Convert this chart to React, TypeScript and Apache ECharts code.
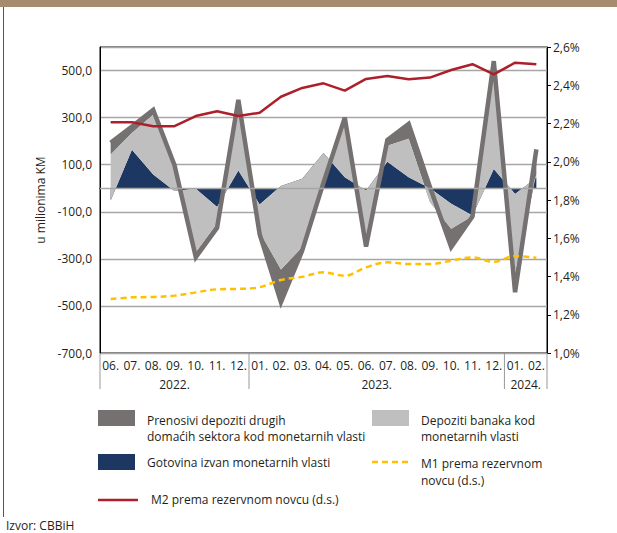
import React, { useEffect, useRef } from "react";
import * as echarts from "echarts";

const months = ["06.", "07.", "08.", "09.", "10.", "11.", "12.", "01.", "02.", "03.", "04.", "05.", "06.", "07.", "08.", "09.", "10.", "11.", "12.", "01.", "02."];
const yearLabels = ["2022.", "2023.", "2024."];
const yearSpans = [7, 12, 2];

// u milionima KM
const gotovina = [-52, 163, 58, -12, -2, -80, 75, -69, 10, 40, 150, 47, -10, 113, 47, 0, -66, -116, 82, -24, 45];
const depozitiBanaka = [195, 72, 254, 102, -270, -70, 245, -116, -355, -290, -150, 243, -190, 67, 163, -59, -106, -2, 408, -336, 15];
const prenosivi = [50, 27, 21, 8, -21, -18, 55, -10, -139, -15, 24, 10, -48, 25, 63, 64, -78, -2, 50, -82, 105];

// d.s. (%)
const m1Rez = [1.282, 1.291, 1.293, 1.3, 1.317, 1.333, 1.335, 1.344, 1.382, 1.398, 1.422, 1.404, 1.448, 1.474, 1.465, 1.465, 1.483, 1.5, 1.477, 1.507, 1.498];
const m2Rez = [2.206, 2.206, 2.186, 2.186, 2.239, 2.264, 2.239, 2.256, 2.34, 2.386, 2.41, 2.372, 2.433, 2.448, 2.431, 2.44, 2.48, 2.51, 2.457, 2.518, 2.51];

const names = {
  pren: "Prenosivi depoziti drugih domaćih sektora kod monetarnih vlasti",
  dep: "Depoziti banaka kod monetarnih vlasti",
  got: "Gotovina izvan monetarnih vlasti",
  m1: "M1 prema rezervnom novcu (d.s.)",
  m2: "M2 prema rezervnom novcu (d.s.)",
};

const C = {
  navy: "#1d3763",
  light: "#bfbfbf",
  dark: "#767171",
  red: "#ad1f2a",
  yellow: "#ffc000",
  grid: "#a6a6a6",
  text: "#231f20",
};
const FONT = "'Open Sans', 'Noto Sans', sans-serif";

export default function App() {
  const ref = useRef<HTMLDivElement>(null);
  useEffect(() => {
    document.body.style.margin = "0";
    const chart = echarts.init(ref.current!, undefined, { renderer: "svg" });
    const totals = gotovina.map((g, i) => g + depozitiBanaka[i] + prenosivi[i]);
    const fmt1 = (v: number) => v.toFixed(1).replace(".", ",");
    chart.setOption({
      animation: false,
      textStyle: { fontFamily: FONT, color: C.text },
      grid: { left: 100, right: 70, top: 47, bottom: 180, show: true, borderColor: "#000", borderWidth: 1, containLabel: false },
      xAxis: {
        type: "category",
        data: months,
        boundaryGap: true,
        axisLine: { lineStyle: { color: "#000", width: 1 } },
        axisTick: { show: false },
        axisLabel: { color: C.text, fontSize: 12, margin: 6, interval: 0, fontFamily: FONT },
      },
      yAxis: [
        {
          type: "value",
          min: -700,
          max: 600,
          interval: 200,
          name: "u milionima KM",
          nameLocation: "middle",
          nameRotate: 90,
          nameGap: 40,
          nameTextStyle: { fontSize: 12, color: C.text, fontFamily: FONT },
          axisLine: { show: true, lineStyle: { color: "#000", width: 1 } },
          axisTick: { show: false },
          axisLabel: {
            color: C.text,
            fontSize: 12,
            margin: 8,
            fontFamily: FONT,
            formatter: (v: number) => (v > 550 ? "" : fmt1(v)),
          },
          splitLine: { show: true, lineStyle: { color: C.grid, width: 1.3 } },
        },
        {
          type: "value",
          min: 1.0,
          max: 2.6,
          interval: 0.2,
          position: "right",
          axisLine: { show: true, lineStyle: { color: "#000", width: 1 } },
          axisTick: { show: true, inside: false, length: 4, lineStyle: { color: "#000" } },
          axisLabel: {
            color: C.text,
            fontSize: 12,
            margin: 6,
            fontFamily: FONT,
            formatter: (v: number) => v.toFixed(1).replace(".", ",") + "%",
          },
          splitLine: { show: false },
        },
      ],
      series: [
        {
          name: names.got,
          type: "line",
          stack: "s",
          stackStrategy: "all",
          data: gotovina,
          symbol: "none",
          color: C.navy,
          lineStyle: { width: 0 },
          areaStyle: { color: C.navy, opacity: 1 },
          z: 2,
          markLine: {
            silent: true,
            symbol: "none",
            label: { show: false },
            lineStyle: { color: C.grid, width: 1.3, type: "solid" },
            data: [{ yAxis: 0 }],
          },
        },
        {
          name: names.dep,
          type: "line",
          stack: "s",
          stackStrategy: "all",
          data: depozitiBanaka,
          symbol: "none",
          color: C.light,
          lineStyle: { width: 0 },
          areaStyle: { color: C.light, opacity: 1 },
          z: 2,
        },
        {
          name: names.pren,
          type: "line",
          stack: "s",
          stackStrategy: "all",
          data: prenosivi,
          symbol: "none",
          color: C.dark,
          lineStyle: { width: 0 },
          areaStyle: { color: C.dark, opacity: 1 },
          z: 1,
        },
        {
          name: "total",
          type: "line",
          data: totals,
          symbol: "none",
          color: C.dark,
          lineStyle: { width: 4.5, color: C.dark, join: "miter", miterLimit: 10 },
          z: 3,
        },
        {
          name: names.m1,
          type: "line",
          yAxisIndex: 1,
          data: m1Rez,
          symbol: "none",
          smooth: 0.35,
          color: C.yellow,
          lineStyle: { width: 2.5, type: [6, 4], color: C.yellow },
          z: 4,
        },
        {
          name: names.m2,
          type: "line",
          yAxisIndex: 1,
          data: m2Rez,
          symbol: "none",
          color: C.red,
          lineStyle: { width: 2.5, color: C.red },
          z: 4,
        },
      ],
    });

    // separators & year labels positioned from the category scale
    const cx = (i: number) => chart.convertToPixel({ xAxisIndex: 0 }, i) as number;
    const step = cx(1) - cx(0);
    const bounds: number[] = [cx(0) - step / 2];
    let acc = 0;
    yearSpans.forEach((s) => {
      acc += s;
      bounds.push(cx(acc - 1) + step / 2);
    });
    const axisY = 353;
    const els: any[] = [];
    bounds.forEach((b) => {
      els.push({ type: "line", shape: { x1: b, y1: axisY, x2: b, y2: 389 }, style: { stroke: "#999", lineWidth: 1 }, z: 10 });
    });
    yearLabels.forEach((y, k) => {
      els.push({
        type: "text",
        x: (bounds[k] + bounds[k + 1]) / 2,
        y: 384,
        style: { text: y, fill: C.text, font: `12px ${FONT}`, align: "center", verticalAlign: "middle" },
      });
    });
    // frame
    els.push({ type: "rect", shape: { x: 0, y: 0, width: 617, height: 7 }, style: { fill: "#a68b6d" } });
    els.push({ type: "line", shape: { x1: 3.5, y1: 7, x2: 3.5, y2: 517 }, style: { stroke: "#555", lineWidth: 1 } });
    // legend
    const tStyle = (text: string, lh = 15.5) => ({ text, fill: C.text, font: `12px ${FONT}`, lineHeight: lh, verticalAlign: "top" });
    els.push({ type: "rect", shape: { x: 98, y: 410, width: 37, height: 16 }, style: { fill: C.dark } });
    els.push({ type: "text", x: 147, y: 413, style: tStyle("Prenosivi depoziti drugih\ndomaćih sektora kod monetarnih vlasti") });
    els.push({ type: "rect", shape: { x: 372, y: 410, width: 37, height: 16 }, style: { fill: C.light } });
    els.push({ type: "text", x: 421, y: 413, style: tStyle("Depoziti banaka kod\nmonetarnih vlasti") });
    els.push({ type: "rect", shape: { x: 98, y: 454, width: 37, height: 16 }, style: { fill: C.navy } });
    els.push({ type: "text", x: 147, y: 455, style: tStyle("Gotovina izvan monetarnih vlasti") });
    els.push({ type: "line", shape: { x1: 372, y1: 462, x2: 410, y2: 462 }, style: { stroke: C.yellow, lineWidth: 2.5, lineDash: [6, 4] } });
    els.push({ type: "text", x: 421, y: 455, style: tStyle("M1 prema rezervnom\nnovcu (d.s.)", 17) });
    els.push({ type: "line", shape: { x1: 98, y1: 500, x2: 138, y2: 500 }, style: { stroke: C.red, lineWidth: 2.5 } });
    els.push({ type: "text", x: 151, y: 492, style: tStyle("M2 prema rezervnom novcu (d.s.)") });
    els.push({ type: "text", x: 6, y: 518, style: tStyle("Izvor: CBBiH") });
    chart.setOption({ graphic: els });

    return () => chart.dispose();
  }, []);
  return <div ref={ref} style={{ width: 617, height: 533 }} />;
}
